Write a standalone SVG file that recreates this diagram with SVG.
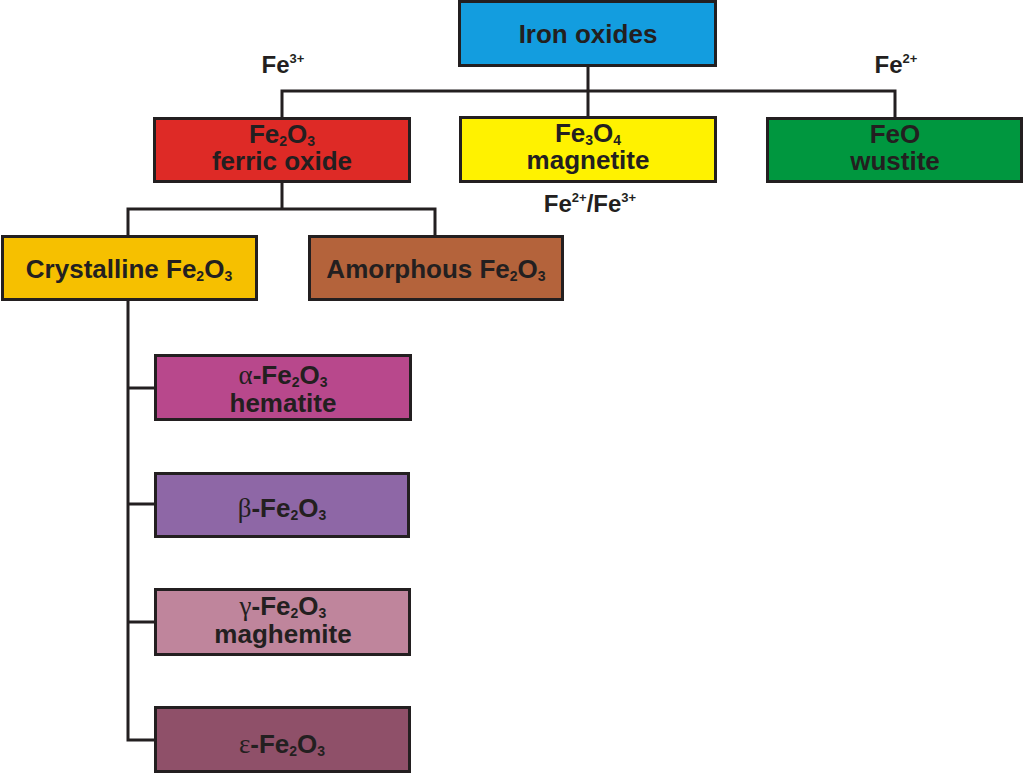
<svg xmlns="http://www.w3.org/2000/svg" width="1024" height="773" viewBox="0 0 1024 773">
<style>
.box{stroke:#231f20;stroke-width:3}
.t{font-family:"Liberation Sans",Arial,sans-serif;font-weight:bold;font-size:26px;fill:#231f20;text-anchor:middle}
.l{font-family:"Liberation Sans",Arial,sans-serif;font-weight:bold;font-size:24px;fill:#231f20;text-anchor:middle}
.sub{font-size:14px}
.sup{font-size:13px}
.g{font-family:"Liberation Serif","Times New Roman",serif;font-weight:normal;font-size:27px}
.c{fill:none;stroke:#231f20;stroke-width:3}
</style>
<rect width="1024" height="773" fill="#ffffff"/>
<g id="connectors">
<path class="c" d="M588 66V91M282 118V91H895V118M588 91V117"/>
<path class="c" d="M282 182V209M128 236V209H435V236"/>
<path class="c" d="M128 300V740H155M128 388H155M128 504H155M128 622H155"/>
</g>
<g id="iron-oxides">
<rect class="box" x="459.5" y="1.5" width="256" height="64" fill="#139ddf"/>
<text class="t" x="588" y="43">Iron oxides</text>
</g>
<g id="fe2o3">
<rect class="box" x="154.5" y="118.5" width="255" height="63" fill="#de2a26"/>
<text class="t" x="282" y="143">Fe<tspan class="sub" dy="3">2</tspan><tspan dy="-3">O</tspan><tspan class="sub" dy="3">3</tspan></text>
<text class="t" x="282" y="170">ferric oxide</text>
</g>
<g id="fe3o4">
<rect class="box" x="460.5" y="117.5" width="255" height="64" fill="#fff200"/>
<text class="t" x="588" y="142">Fe<tspan class="sub" dy="3">3</tspan><tspan dy="-3">O</tspan><tspan class="sub" dy="3">4</tspan></text>
<text class="t" x="588" y="169">magnetite</text>
</g>
<g id="feo">
<rect class="box" x="767.5" y="118.5" width="254" height="63" fill="#00973f"/>
<text class="t" x="895" y="143">FeO</text>
<text class="t" x="895" y="170">wustite</text>
</g>
<g id="labels">
<text class="l" x="283" y="73">Fe<tspan class="sup" dy="-10">3+</tspan></text>
<text class="l" x="896" y="73">Fe<tspan class="sup" dy="-10">2+</tspan></text>
<text class="l" x="590" y="212">Fe<tspan class="sup" dy="-10">2+</tspan><tspan dy="10">/Fe</tspan><tspan class="sup" dy="-10">3+</tspan></text>
</g>
<g id="crystalline">
<rect class="box" x="2.5" y="236.5" width="254" height="63" fill="#f6c000"/>
<text class="t" x="129" y="278">Crystalline Fe<tspan class="sub" dy="3">2</tspan><tspan dy="-3">O</tspan><tspan class="sub" dy="3">3</tspan></text>
</g>
<g id="amorphous">
<rect class="box" x="309.5" y="236.5" width="253" height="63" fill="#b4633b"/>
<text class="t" x="436" y="278">Amorphous Fe<tspan class="sub" dy="3">2</tspan><tspan dy="-3">O</tspan><tspan class="sub" dy="3">3</tspan></text>
</g>
<g id="hematite">
<rect class="box" x="155.5" y="355.5" width="255" height="64" fill="#b8488c"/>
<text class="t" x="283" y="384"><tspan class="g">α</tspan>-Fe<tspan class="sub" dy="3">2</tspan><tspan dy="-3">O</tspan><tspan class="sub" dy="3">3</tspan></text>
<text class="t" x="283" y="412">hematite</text>
</g>
<g id="beta">
<rect class="box" x="155.5" y="473.5" width="253" height="63" fill="#8e67a6"/>
<text class="t" x="282" y="517"><tspan class="g">β</tspan>-Fe<tspan class="sub" dy="3">2</tspan><tspan dy="-3">O</tspan><tspan class="sub" dy="3">3</tspan></text>
</g>
<g id="maghemite">
<rect class="box" x="155.5" y="589.5" width="254" height="65" fill="#bf859c"/>
<text class="t" x="283" y="615"><tspan class="g">γ</tspan>-Fe<tspan class="sub" dy="3">2</tspan><tspan dy="-3">O</tspan><tspan class="sub" dy="3">3</tspan></text>
<text class="t" x="283" y="643">maghemite</text>
</g>
<g id="epsilon">
<rect class="box" x="155.5" y="707.5" width="254" height="64" fill="#8f5069"/>
<text class="t" x="282" y="753"><tspan class="g">ε</tspan>-Fe<tspan class="sub" dy="3">2</tspan><tspan dy="-3">O</tspan><tspan class="sub" dy="3">3</tspan></text>
</g>
</svg>
